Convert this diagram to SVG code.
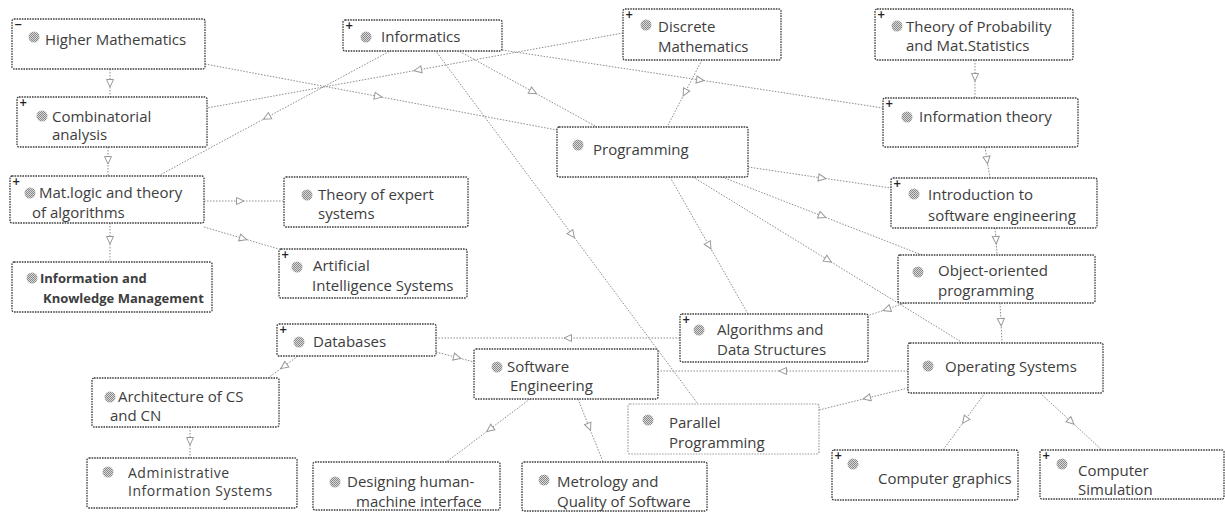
<svg xmlns="http://www.w3.org/2000/svg" width="1225" height="512" viewBox="0 0 1225 512">
<style>
.bx{fill:#fff;stroke:#3c3c3c;stroke-width:1.3;stroke-dasharray:1.6 1;}
.bx2{fill:#fff;stroke:#a0a0a0;stroke-width:1.2;stroke-dasharray:1.6 1.2;}
.t{font-family:"Open Sans","Noto Sans",sans-serif;font-size:15px;fill:#3d3d3d;}
.s{font-family:"Open Sans","Noto Sans",sans-serif;font-size:14px;letter-spacing:0.5px;fill:#3d3d3d;}
.b{font-family:"Open Sans","Noto Sans",sans-serif;font-size:13px;font-weight:bold;fill:#3d3d3d;}
.pl{font-family:"DejaVu Sans",sans-serif;font-size:10px;font-weight:bold;fill:#222;}
.ic{fill:url(#dith);}
.c{fill:none;stroke:#8c8c8c;stroke-width:1;stroke-dasharray:1.5 1.5;marker-mid:url(#ah);}
</style>
<defs>
<pattern id="dith" width="2" height="2" patternUnits="userSpaceOnUse">
<rect width="2" height="2" fill="#d8d8d8"/>
<rect width="1" height="1" fill="#8a8a8a"/>
<rect x="1" y="1" width="1" height="1" fill="#8a8a8a"/>
</pattern>
<marker id="ah" viewBox="0 0 10 10" refX="5" refY="5" markerWidth="10" markerHeight="10" markerUnits="userSpaceOnUse" orient="auto">
<path d="M1.5,1.5 L9,5 L1.5,8.5 Z" fill="#fff" stroke="#999" stroke-width="1"/>
</marker>
</defs>
<rect width="1225" height="512" fill="#fff"/>
<g id="connectors">
<path class="c" d="M110,69 L110,83 L110,97"/>
<path class="c" d="M108,147 L108,160 L108,176"/>
<path class="c" d="M110,223 L110,240 L110,262"/>
<path class="c" d="M204,201 L240,201 L284,201"/>
<path class="c" d="M204,227 L243,238.5 L282,250"/>
<path class="c" d="M205,64 L378,96.4 L557,130"/>
<path class="c" d="M623,33 L418,70 L207,108"/>
<path class="c" d="M392,50 L267,117.3 L158,176"/>
<path class="c" d="M502,50 L700,80 L883,108"/>
<path class="c" d="M457,50 L533,91.8 L597,127"/>
<path class="c" d="M435,50 L572,234.4 L698,404"/>
<path class="c" d="M702,60 L685,92.5 L667,127"/>
<path class="c" d="M975,60 L975,77 L975,98"/>
<path class="c" d="M985,147 L987,160 L990,178"/>
<path class="c" d="M748,167 L822,178 L891,188"/>
<path class="c" d="M722,177 L822,216 L922,255"/>
<path class="c" d="M693,177 L828,260 L963,343"/>
<path class="c" d="M670,177 L709,245.5 L748,314"/>
<path class="c" d="M995,228 L996,240 L997,255"/>
<path class="c" d="M1000,303 L1001,322 L1002,343"/>
<path class="c" d="M905,303 L887,309.2 L867,316"/>
<path class="c" d="M680,338 L568,338 L436,338"/>
<path class="c" d="M436,352 L457,357.5 L474,362"/>
<path class="c" d="M298,356 L284,366.3 L268,378"/>
<path class="c" d="M190,427 L190,441 L190,458"/>
<path class="c" d="M530,399 L490,429.1 L445,463"/>
<path class="c" d="M578,399 L589,426.7 L603,462"/>
<path class="c" d="M908,371 L783,371 L658,371"/>
<path class="c" d="M908,388 L867,398.1 L819,410"/>
<path class="c" d="M985,393 L965,420.1 L943,450"/>
<path class="c" d="M1040,393 L1071,421.5 L1102,450"/>
</g>
<g id="n-higher-math">
<rect class="bx" x="12" y="19" width="193" height="50" rx="2"/>
<text class="pl" x="14" y="28">−</text>
<circle class="ic" cx="34" cy="37" r="5.5"/>
<text class="t" x="45" y="45">Higher Mathematics</text>
</g>
<g id="n-informatics">
<rect class="bx" x="343" y="20" width="159" height="31" rx="2"/>
<text class="pl" x="345" y="29">+</text>
<circle class="ic" cx="366" cy="37" r="5.5"/>
<text class="t" x="381" y="42">Informatics</text>
</g>
<g id="n-discrete">
<rect class="bx" x="623" y="9" width="158" height="51" rx="2"/>
<text class="pl" x="625" y="18">+</text>
<circle class="ic" cx="646" cy="25" r="5.5"/>
<text class="t" x="658" y="32">Discrete</text>
<text class="t" x="658" y="52">Mathematics</text>
</g>
<g id="n-probability">
<rect class="bx" x="875" y="9" width="198" height="51" rx="2"/>
<text class="pl" x="877" y="18">+</text>
<circle class="ic" cx="897" cy="26" r="5.5"/>
<text class="t" x="906" y="32">Theory of Probability</text>
<text class="t" x="906" y="51">and Mat.Statistics</text>
</g>
<g id="n-combinatorial">
<rect class="bx" x="17" y="97" width="190" height="50" rx="2"/>
<text class="pl" x="19" y="106">+</text>
<circle class="ic" cx="42" cy="116" r="5.5"/>
<text class="t" x="52" y="122">Combinatorial</text>
<text class="t" x="52" y="140">analysis</text>
</g>
<g id="n-information-theory">
<rect class="bx" x="883" y="98" width="195" height="49" rx="2"/>
<text class="pl" x="885" y="107">+</text>
<circle class="ic" cx="907" cy="117" r="5.5"/>
<text class="t" x="919" y="122">Information theory</text>
</g>
<g id="n-programming">
<rect class="bx" x="557" y="127" width="191" height="50" rx="2"/>
<circle class="ic" cx="578" cy="145" r="5.5"/>
<text class="t" x="593" y="155">Programming</text>
</g>
<g id="n-matlogic">
<rect class="bx" x="10" y="176" width="194" height="47" rx="2"/>
<text class="pl" x="12" y="185">+</text>
<circle class="ic" cx="30" cy="193" r="5.5"/>
<text class="t" x="39" y="198">Mat.logic and theory</text>
<text class="t" x="32" y="218">of algorithms</text>
</g>
<g id="n-expert">
<rect class="bx" x="284" y="177" width="184" height="50" rx="2"/>
<circle class="ic" cx="307" cy="195" r="5.5"/>
<text class="t" x="318" y="200">Theory of expert</text>
<text class="t" x="318" y="219">systems</text>
</g>
<g id="n-intro-se">
<rect class="bx" x="891" y="178" width="206" height="50" rx="2"/>
<text class="pl" x="893" y="187">+</text>
<circle class="ic" cx="914" cy="194" r="5.5"/>
<text class="t" x="928" y="200">Introduction to</text>
<text class="t" x="928" y="221">software engineering</text>
</g>
<g id="n-ikm">
<rect class="bx" x="12" y="262" width="200" height="50" rx="2"/>
<circle class="ic" cx="32" cy="278" r="5.5"/>
<text class="b" x="40" y="283">Information and</text>
<text class="b" x="43" y="303">Knowledge Management</text>
</g>
<g id="n-ai">
<rect class="bx" x="279" y="249" width="188" height="49" rx="2"/>
<text class="pl" x="281" y="258">+</text>
<circle class="ic" cx="297" cy="267" r="5.5"/>
<text class="t" x="313" y="271">Artificial</text>
<text class="t" x="312" y="291">Intelligence Systems</text>
</g>
<g id="n-oop">
<rect class="bx" x="898" y="255" width="197" height="48" rx="2"/>
<circle class="ic" cx="918" cy="272" r="5.5"/>
<text class="t" x="938" y="276">Object-oriented</text>
<text class="t" x="938" y="296">programming</text>
</g>
<g id="n-databases">
<rect class="bx" x="277" y="324" width="159" height="32" rx="2"/>
<text class="pl" x="279" y="333">+</text>
<circle class="ic" cx="299" cy="342" r="5.5"/>
<text class="t" x="313" y="347">Databases</text>
</g>
<g id="n-ads">
<rect class="bx" x="680" y="314" width="188" height="48" rx="2"/>
<text class="pl" x="682" y="323">+</text>
<circle class="ic" cx="699" cy="330" r="5.5"/>
<text class="t" x="717" y="335">Algorithms and</text>
<text class="t" x="717" y="355">Data Structures</text>
</g>
<g id="n-se">
<rect class="bx" x="474" y="349" width="184" height="50" rx="2"/>
<circle class="ic" cx="497" cy="367" r="5.5"/>
<text class="t" x="507" y="372">Software</text>
<text class="t" x="510" y="391">Engineering</text>
</g>
<g id="n-os">
<rect class="bx" x="908" y="343" width="195" height="50" rx="2"/>
<circle class="ic" cx="928" cy="366" r="5.5"/>
<text class="t" x="945" y="372">Operating Systems</text>
</g>
<g id="n-arch">
<rect class="bx" x="92" y="378" width="187" height="49" rx="2"/>
<circle class="ic" cx="110" cy="397" r="5.5"/>
<text class="t" x="118" y="402">Architecture of CS</text>
<text class="t" x="110" y="421">and CN</text>
</g>
<g id="n-parallel">
<rect class="bx2" x="628" y="404" width="191" height="50" rx="2"/>
<circle class="ic" cx="648" cy="420" r="5.5"/>
<text class="t" x="669" y="428">Parallel</text>
<text class="t" x="669" y="448">Programming</text>
</g>
<g id="n-admin">
<rect class="bx" x="87" y="458" width="210" height="50" rx="2"/>
<circle class="ic" cx="108" cy="472" r="5.5"/>
<text class="s" x="128" y="478">Administrative</text>
<text class="s" x="128" y="496">Information Systems</text>
</g>
<g id="n-hmi">
<rect class="bx" x="313" y="462" width="187" height="48" rx="2"/>
<circle class="ic" cx="335" cy="482" r="5.5"/>
<text class="t" x="347" y="487">Designing human-</text>
<text class="t" x="356" y="507">machine interface</text>
</g>
<g id="n-metrology">
<rect class="bx" x="522" y="462" width="185" height="49" rx="2"/>
<circle class="ic" cx="544" cy="480" r="5.5"/>
<text class="t" x="557" y="487">Metrology and</text>
<text class="t" x="557" y="507">Quality of Software</text>
</g>
<g id="n-graphics">
<rect class="bx" x="832" y="450" width="186" height="50" rx="2"/>
<text class="pl" x="834" y="459">+</text>
<circle class="ic" cx="853" cy="464" r="5.5"/>
<text class="t" x="878" y="484">Computer graphics</text>
</g>
<g id="n-simulation">
<rect class="bx" x="1040" y="450" width="184" height="49" rx="2"/>
<text class="pl" x="1042" y="459">+</text>
<circle class="ic" cx="1062" cy="464" r="5.5"/>
<text class="t" x="1078" y="476">Computer</text>
<text class="t" x="1078" y="495">Simulation</text>
</g>
</svg>
